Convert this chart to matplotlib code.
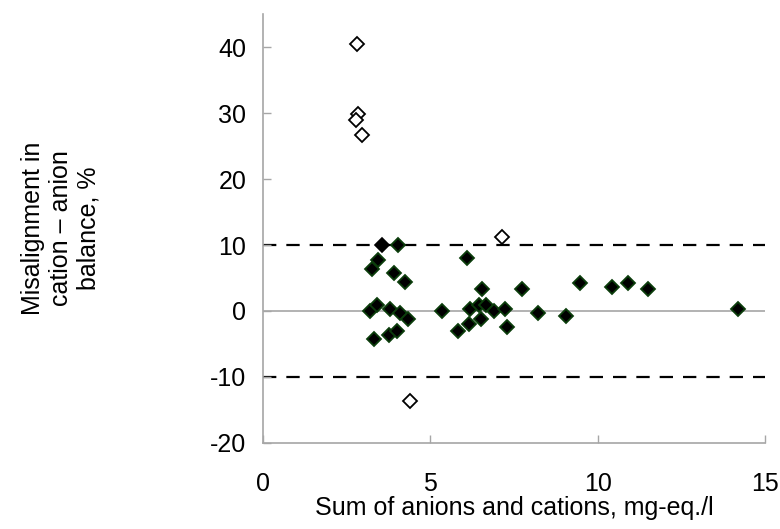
import matplotlib
matplotlib.use("Agg")
import matplotlib.pyplot as plt

plt.rcParams['font.family'] = ['Liberation Sans', 'DejaVu Sans']
plt.rcParams['axes.unicode_minus'] = False

# Accepted samples (filled diamonds)
x_ok = [4.04, 3.45, 3.27, 3.91, 4.24, 6.09, 6.55, 7.75, 3.20, 3.40, 3.79, 4.09,
        4.34, 5.36, 6.18, 6.45, 6.65, 6.90, 7.23, 6.15, 6.50, 5.84, 7.28, 3.33,
        3.77, 3.99, 8.23, 9.47, 10.44, 10.92, 11.51, 9.05, 14.2]
y_ok = [10.0, 7.8, 6.3, 5.8, 4.4, 8.1, 3.3, 3.3, 0.05, 0.9, 0.3, -0.25,
        -1.25, 0.05, 0.3, 0.9, 0.9, 0.05, 0.25, -1.9, -1.25, -3.0, -2.5, -4.3,
        -3.6, -3.0, -0.3, 4.2, 3.6, 4.2, 3.3, -0.7, 0.25]
# Boundary sample (black diamond)
x_edge = [3.56]
y_edge = [10.0]
# Rejected samples (open diamonds)
x_bad = [2.81, 2.84, 2.78, 2.96, 7.13, 4.39]
y_bad = [40.5, 29.9, 29.0, 26.6, 11.2, -13.7]

limits = [10, -10]
xticks = [0, 5, 10, 15]
yticks = [-20, -10, 0, 10, 20, 30, 40]

fig = plt.figure(figsize=(7.8, 5.29), dpi=100)
ax = fig.add_axes([0.3372, 0.1626, 0.9808 - 0.3372, 0.9735 - 0.1626])

ax.axhline(0, color='#a6a6a6', lw=1.2, zorder=1)
for lv in limits:
    ax.axhline(lv, color='black', lw=1.6, ls=(0, (6, 4.5)), zorder=1)

ax.plot(x_ok, y_ok, 'D', ms=7.4, mfc='black', mec='#0b3d0b', mew=1.3, ls='none', zorder=3)
ax.plot(x_edge, y_edge, 'D', ms=7.6, mfc='black', mec='black', mew=1.2, ls='none', zorder=3)
ax.plot(x_bad, y_bad, 'D', ms=7.0, mfc='white', mec='black', mew=1.3, ls='none', zorder=3)

ax.set_xlim(0, 15)
ax.set_ylim(-20, 45)
ax.set_xticks(xticks)
ax.set_yticks(yticks)

for s in ['top', 'right']:
    ax.spines[s].set_visible(False)
for s in ['left', 'bottom']:
    ax.spines[s].set_color('#a6a6a6')
    ax.spines[s].set_linewidth(1.2)

ax.tick_params(axis='both', direction='in', length=6, width=1, color='#a6a6a6',
               labelsize=18, labelcolor='black')
ax.tick_params(axis='y', pad=12)
ax.tick_params(axis='x', pad=21)

ax.set_xlabel('Sum of anions and cations, mg-eq./l', fontsize=18, labelpad=0)
ax.set_ylabel('Misalignment in\ncation \u2013 anion\nbalance, %', fontsize=18,
              labelpad=79, linespacing=1.2)

fig.savefig('out.png', dpi=100)
